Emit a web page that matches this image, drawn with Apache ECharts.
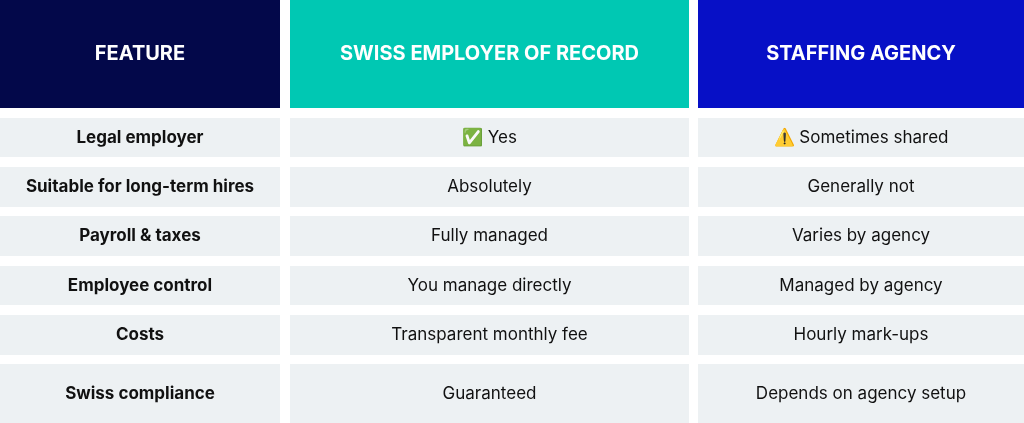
<!DOCTYPE html>
<html>
<head>
<meta charset="utf-8">
<script src="https://cdn.jsdelivr.net/npm/echarts@6/dist/echarts.min.js"></script>
<style>html,body{margin:0;padding:0;background:#fff}#chart{width:1024px;height:423px}</style>
</head>
<body>
<div id="chart"></div>
<script>
const headers = ['FEATURE', 'SWISS EMPLOYER OF RECORD', 'STAFFING AGENCY'];
const features = ['Legal employer', 'Suitable for long-term hires', 'Payroll & taxes', 'Employee control', 'Costs', 'Swiss compliance'];
const eorValues = ['✅ Yes', 'Absolutely', 'Fully managed', 'You manage directly', 'Transparent monthly fee', 'Guaranteed'];
const agencyValues = ['⚠️ Sometimes shared', 'Generally not', 'Varies by agency', 'Managed by agency', 'Hourly mark-ups', 'Depends on agency setup'];

// layout (pixel edges)
const colEdges = [[0, 280], [290, 689], [698, 1024]];
const rowEdges = [[0, 108], [118, 157], [167, 207], [216, 256], [266, 305], [315, 355], [364, 423]];
const headColors = ['#03084a', '#00c8b3', '#0710c6'];

const cells = [];
headers.forEach((h, c) => cells.push([c, 0, h]));
features.forEach((f, r) => {
  cells.push([0, r + 1, f]);
  cells.push([1, r + 1, eorValues[r]]);
  cells.push([2, r + 1, agencyValues[r]]);
});

const chart = echarts.init(document.getElementById('chart'));
chart.setOption({
  animation: false,
  grid: { left: 0, right: 0, top: 0, bottom: 0 },
  xAxis: { type: 'value', min: 0, max: 1024, show: false },
  yAxis: { type: 'value', min: 0, max: 423, inverse: true, show: false },
  series: [{
    type: 'custom',
    data: cells,
    renderItem: (params, api) => {
      const c = api.value(0), r = api.value(1);
      const text = cells[params.dataIndex][2];
      const p0 = api.coord([colEdges[c][0], rowEdges[r][0]]);
      const p1 = api.coord([colEdges[c][1], rowEdges[r][1]]);
      const head = r === 0;
      return {
        type: 'group',
        children: [{
          type: 'rect',
          shape: { x: p0[0], y: p0[1], width: p1[0] - p0[0], height: p1[1] - p0[1] },
          style: { fill: head ? headColors[c] : '#edf1f3' }
        }, {
          type: 'text',
          x: (p0[0] + p1[0]) / 2,
          y: (p0[1] + p1[1]) / 2,
          style: {
            text: text,
            align: 'center',
            verticalAlign: 'middle',
            fill: head ? '#ffffff' : '#111111',
            fontFamily: 'Inter, "Noto Sans", sans-serif',
            fontWeight: head || c === 0 ? 'bold' : 'normal',
            fontSize: head ? 20 : 17
          }
        }]
      };
    }
  }]
});
</script>
</body>
</html>
